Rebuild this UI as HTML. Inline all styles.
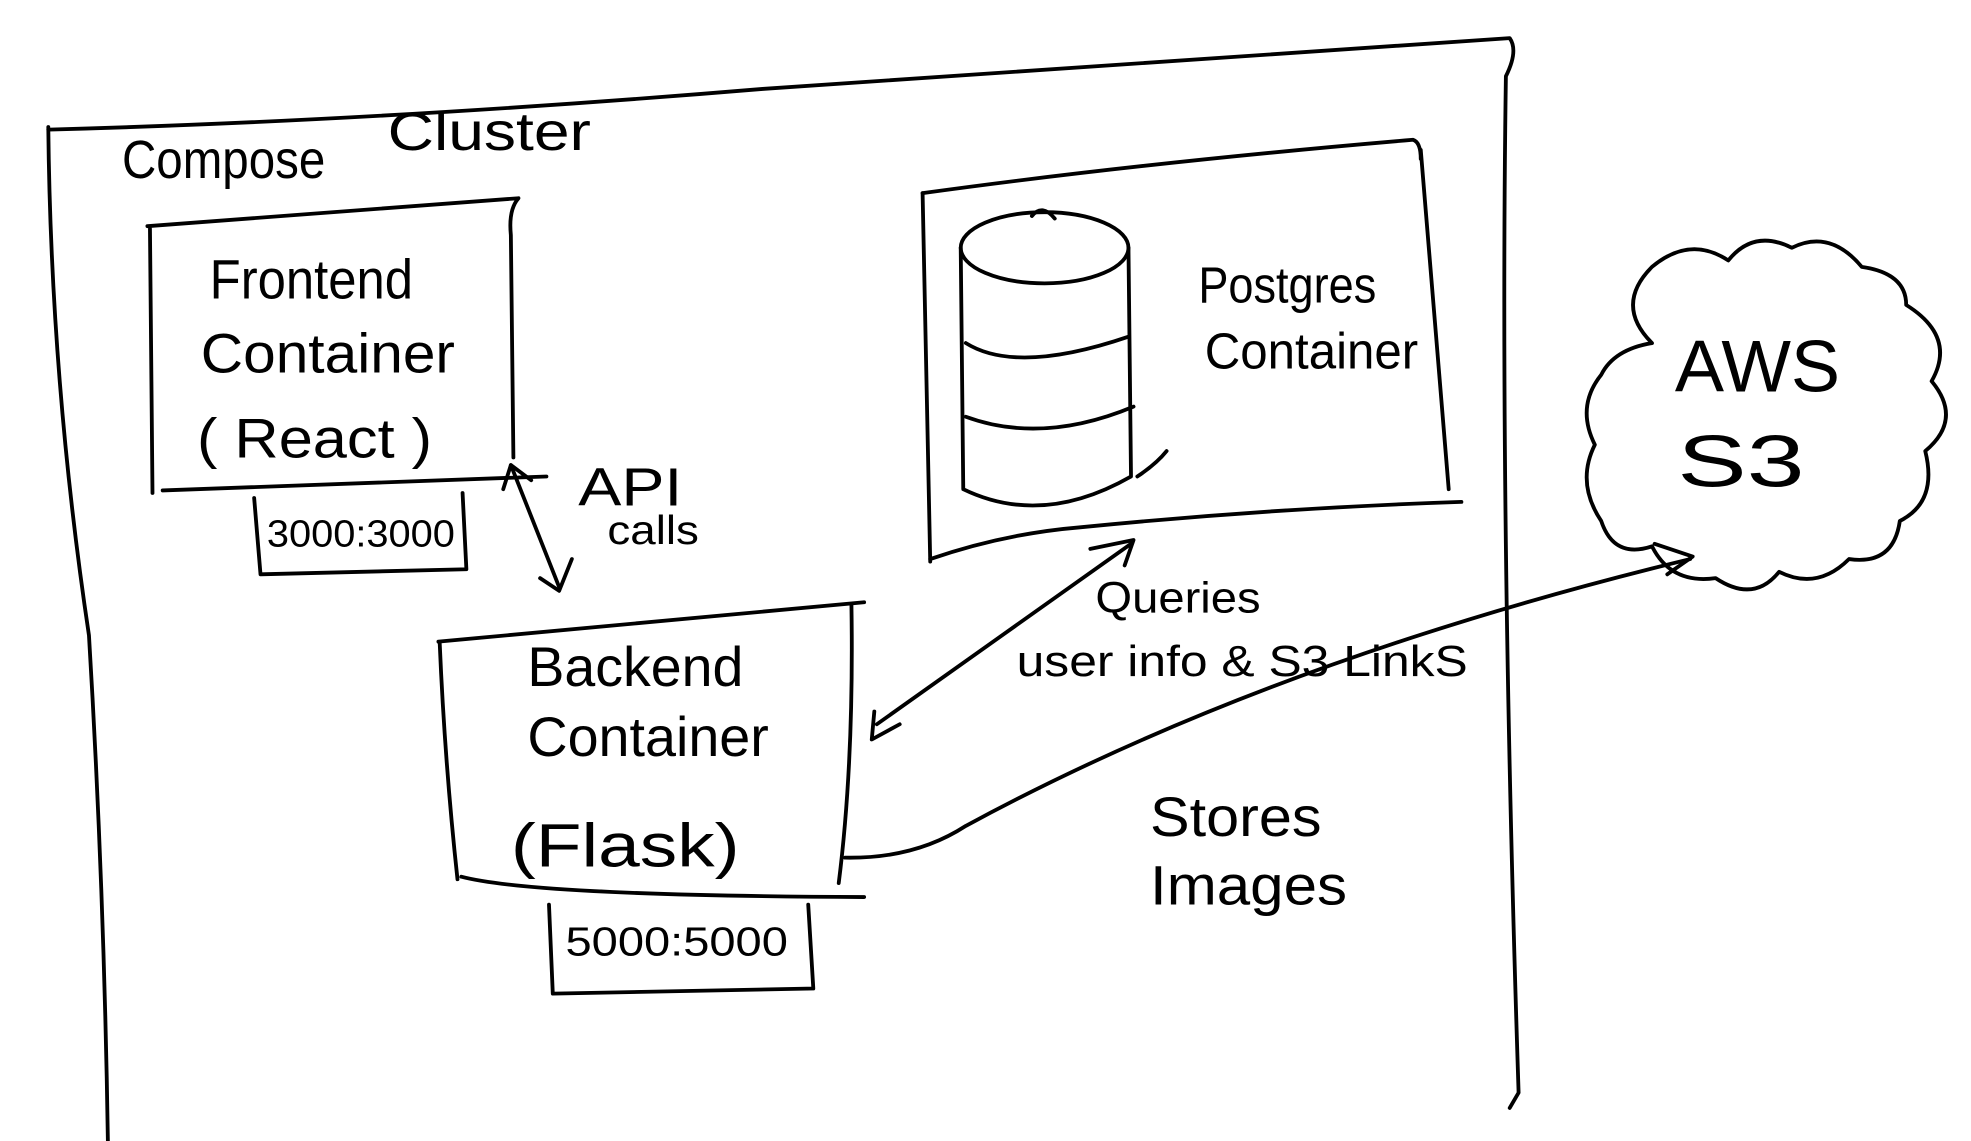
<!DOCTYPE html>
<html><head><meta charset="utf-8"><style>
html,body{margin:0;padding:0;background:#fff;width:1971px;height:1141px;overflow:hidden}
svg{display:block}
text{font-family:"Liberation Sans",sans-serif;fill:#000}
</style></head><body>
<svg width="1971" height="1141" viewBox="0 0 1551 898" preserveAspectRatio="none" xmlns="http://www.w3.org/2000/svg">
<g fill="none" stroke="#000" stroke-width="3" stroke-linecap="round" stroke-linejoin="round">
<path d="M38 102 Q300 95 600 70 L1188 30 Q1195 40 1185 60 Q1180 400 1195 860 L1188 872"/>
<path d="M38 100 Q40 300 70 500 Q82 700 85 905"/>
<path d="M116 178 L408 156 Q400 165 402 185 L404 360"/>
<path d="M118 180 L120 388"/>
<path d="M128 386 L430 375"/>
<path d="M200 392 L205 452 L367 448 L364 388"/>
<path d="M402 366 L440 462"/>
<path d="M396 385 L402 366 L418 378"/>
<path d="M425 455 L440 465 L450 440"/>
<path d="M726 152 Q900 128 1112 110 Q1118 112 1118 125"/>
<path d="M1118 118 L1140 385"/>
<path d="M726 152 L732 442"/>
<path d="M732 440 Q790 420 850 415 Q1000 400 1150 395"/>
<ellipse cx="822" cy="195" rx="66" ry="28"/>
<path d="M756 195 L758 385 Q820 415 890 375 L888 195"/>
<path d="M760 270 Q800 295 888 265"/>
<path d="M760 328 Q820 350 892 320"/>
<path d="M895 375 Q910 365 918 355"/>
<path d="M812 170 Q820 160 830 172"/>
<path d="M1300 270 Q1270 240 1300 210 Q1330 185 1360 205 Q1380 180 1410 195 Q1440 180 1465 210 Q1500 215 1500 240 Q1540 265 1520 300 Q1545 330 1515 355 Q1525 395 1495 410 Q1490 445 1455 440 Q1430 465 1400 450 Q1380 475 1350 455 Q1315 460 1300 430 Q1270 440 1260 410 Q1240 380 1255 350 Q1240 320 1260 295 Q1270 275 1300 270 Z"/>
<path d="M345 505 L680 474"/>
<path d="M346 506 Q350 600 360 692"/>
<path d="M670 476 Q672 600 660 695"/>
<path d="M363 690 Q420 705 680 706"/>
<path d="M432 712 L435 782 L640 778 L636 712"/>
<path d="M690 570 L890 428"/>
<path d="M688 560 L686 582 L708 570"/>
<path d="M858 432 L892 425 L885 445"/>
<path d="M665 675 Q720 676 760 650 Q1000 520 1330 440"/>
<path d="M1302 428 L1332 438 L1312 452"/>
</g>
<g font-size="44">
<text x="96" y="140" font-size="42" textLength="160" lengthAdjust="spacingAndGlyphs">Compose</text>
<text x="305" y="118" font-size="42" textLength="160" lengthAdjust="spacingAndGlyphs">Cluster</text>
<text x="165" y="235" textLength="160" lengthAdjust="spacingAndGlyphs">Frontend</text>
<text x="158" y="293" textLength="200" lengthAdjust="spacingAndGlyphs">Container</text>
<text x="155" y="360" textLength="185" lengthAdjust="spacingAndGlyphs">( React )</text>
<text x="210" y="430" font-size="30" textLength="148" lengthAdjust="spacingAndGlyphs">3000:3000</text>
<text x="455" y="398" font-size="42" textLength="82" lengthAdjust="spacingAndGlyphs">API</text>
<text x="478" y="428" font-size="32" textLength="72" lengthAdjust="spacingAndGlyphs">calls</text>
<text x="943" y="238" font-size="40" textLength="140" lengthAdjust="spacingAndGlyphs">Postgres</text>
<text x="948" y="290" font-size="40" textLength="168" lengthAdjust="spacingAndGlyphs">Container</text>
<text x="1318" y="308" font-size="58" textLength="130" lengthAdjust="spacingAndGlyphs">AWS</text>
<text x="1320" y="383" font-size="58" textLength="100" lengthAdjust="spacingAndGlyphs">S3</text>
<text x="415" y="540" textLength="170" lengthAdjust="spacingAndGlyphs">Backend</text>
<text x="415" y="595" textLength="190" lengthAdjust="spacingAndGlyphs">Container</text>
<text x="402" y="682" font-size="48" textLength="180" lengthAdjust="spacingAndGlyphs">(Flask)</text>
<text x="445" y="752" font-size="32" textLength="175" lengthAdjust="spacingAndGlyphs">5000:5000</text>
<text x="862" y="482" font-size="34" textLength="130" lengthAdjust="spacingAndGlyphs">Queries</text>
<text x="800" y="532" font-size="34" textLength="355" lengthAdjust="spacingAndGlyphs">user info &amp; S3 LinkS</text>
<text x="905" y="658" font-size="44" textLength="135" lengthAdjust="spacingAndGlyphs">Stores</text>
<text x="905" y="712" font-size="44" textLength="155" lengthAdjust="spacingAndGlyphs">Images</text>
</g>
</svg>
</body></html>
